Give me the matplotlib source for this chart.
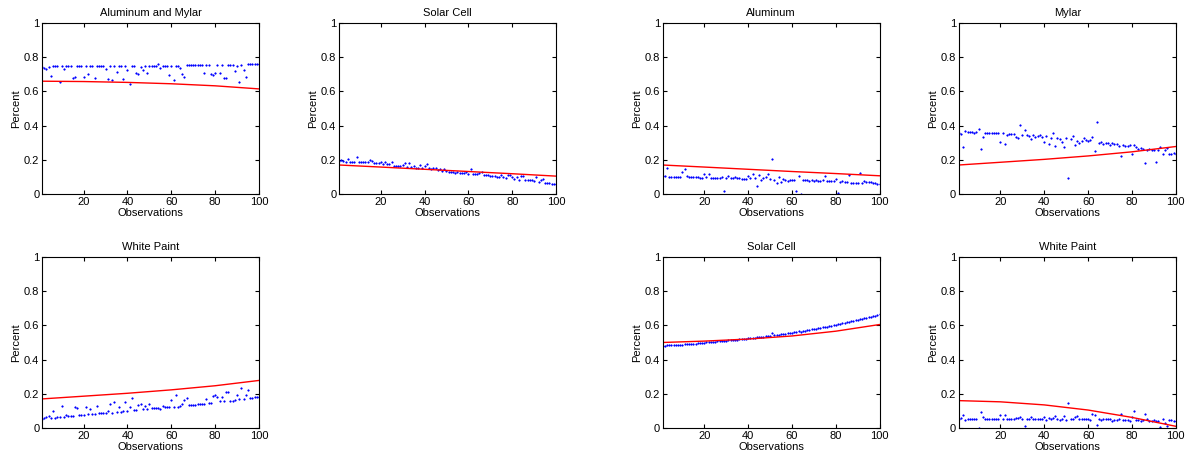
import numpy as np
import matplotlib
matplotlib.use("Agg")
import matplotlib.pyplot as plt

plt.rcParams['font.family'] = ['Liberation Sans', 'DejaVu Sans']

obs = np.arange(1, 101)
fit_x = [1, 20, 40, 60, 80, 100]

# Aluminum and Mylar
alm_pts = [0.745, 0.74, 0.73, 0.745, 0.69, 0.75, 0.75, 0.75, 0.655, 0.75,
           0.73, 0.75, 0.75, 0.75, 0.68, 0.685, 0.75, 0.75, 0.75, 0.685,
           0.75, 0.70, 0.75, 0.75, 0.68, 0.75, 0.75, 0.75, 0.75, 0.73,
           0.675, 0.75, 0.665, 0.75, 0.715, 0.75, 0.75, 0.675, 0.75, 0.725,
           0.645, 0.75, 0.75, 0.71, 0.70, 0.745, 0.725, 0.75, 0.71, 0.75,
           0.75, 0.75, 0.75, 0.76, 0.74, 0.75, 0.75, 0.75, 0.695, 0.75,
           0.665, 0.75, 0.75, 0.74, 0.705, 0.685, 0.755, 0.755, 0.755, 0.755,
           0.755, 0.755, 0.755, 0.755, 0.71, 0.755, 0.755, 0.705, 0.695, 0.71,
           0.755, 0.71, 0.755, 0.68, 0.68, 0.757, 0.757, 0.757, 0.72, 0.75,
           0.655, 0.755, 0.725, 0.685, 0.76, 0.76, 0.76, 0.76, 0.76, 0.76]
alm_fit = [0.660, 0.658, 0.653, 0.645, 0.633, 0.615]

# Solar Cell (top)
sc1_pts = [0.195, 0.20, 0.195, 0.19, 0.205, 0.19, 0.19, 0.19, 0.215, 0.19,
           0.19, 0.185, 0.185, 0.185, 0.20, 0.195, 0.18, 0.18, 0.18, 0.19,
           0.175, 0.185, 0.175, 0.175, 0.185, 0.165, 0.165, 0.165, 0.165, 0.17,
           0.18, 0.16, 0.18, 0.16, 0.165, 0.155, 0.155, 0.17, 0.15, 0.165,
           0.175, 0.15, 0.145, 0.155, 0.155, 0.14, 0.145, 0.135, 0.145, 0.135,
           0.13, 0.13, 0.13, 0.125, 0.13, 0.125, 0.125, 0.125, 0.13, 0.12,
           0.145, 0.115, 0.115, 0.12, 0.125, 0.13, 0.11, 0.11, 0.11, 0.105,
           0.105, 0.105, 0.10, 0.10, 0.11, 0.10, 0.095, 0.11, 0.11, 0.10,
           0.09, 0.10, 0.085, 0.105, 0.105, 0.08, 0.08, 0.08, 0.085, 0.075,
           0.10, 0.07, 0.08, 0.09, 0.065, 0.065, 0.065, 0.06, 0.06, 0.06]
sc1_fit = [0.170, 0.158, 0.145, 0.132, 0.119, 0.105]

# Aluminum
al_pts = [0.105, 0.105, 0.155, 0.10, 0.10, 0.10, 0.10, 0.10, 0.10, 0.13,
          0.145, 0.105, 0.10, 0.10, 0.10, 0.10, 0.10, 0.095, 0.095, 0.115,
          0.10, 0.12, 0.095, 0.095, 0.095, 0.095, 0.095, 0.10, 0.02, 0.095,
          0.105, 0.095, 0.095, 0.10, 0.095, 0.095, 0.09, 0.09, 0.09, 0.105,
          0.095, 0.12, 0.095, 0.05, 0.11, 0.085, 0.095, 0.10, 0.115, 0.09,
          0.205, 0.085, 0.065, 0.10, 0.07, 0.09, 0.085, 0.075, 0.08, 0.08,
          0.085, 0.02, 0.105, 0.0, 0.08, 0.08, 0.08, 0.075, 0.08, 0.075,
          0.08, 0.075, 0.075, 0.08, 0.105, 0.075, 0.075, 0.075, 0.075, 0.09,
          0.005, 0.07, 0.075, 0.07, 0.07, 0.11, 0.065, 0.065, 0.065, 0.065,
          0.125, 0.065, 0.075, 0.07, 0.07, 0.07, 0.065, 0.065, 0.06, 0.06]
al_fit = [0.170, 0.158, 0.145, 0.132, 0.120, 0.107]

# Mylar
my_pts = [0.355, 0.35, 0.275, 0.37, 0.365, 0.365, 0.365, 0.36, 0.365, 0.38,
          0.265, 0.335, 0.36, 0.355, 0.355, 0.355, 0.36, 0.355, 0.355, 0.305,
          0.355, 0.295, 0.345, 0.35, 0.35, 0.35, 0.335, 0.33, 0.405, 0.345,
          0.375, 0.345, 0.34, 0.32, 0.345, 0.335, 0.34, 0.345, 0.335, 0.305,
          0.34, 0.295, 0.325, 0.36, 0.28, 0.33, 0.32, 0.305, 0.275, 0.325,
          0.095, 0.32, 0.34, 0.285, 0.31, 0.30, 0.31, 0.325, 0.315, 0.31,
          0.315, 0.335, 0.25, 0.42, 0.30, 0.305, 0.295, 0.30, 0.30, 0.285,
          0.30, 0.295, 0.29, 0.28, 0.22, 0.285, 0.28, 0.28, 0.285, 0.235,
          0.285, 0.275, 0.265, 0.27, 0.265, 0.18, 0.26, 0.265, 0.26, 0.26,
          0.19, 0.255, 0.275, 0.235, 0.26, 0.27, 0.235, 0.235, 0.24, 0.235]
my_fit = [0.170, 0.186, 0.203, 0.223, 0.247, 0.278]

# White Paint (bottom left)
wp1_pts = [0.055, 0.06, 0.065, 0.07, 0.06, 0.10, 0.06, 0.065, 0.065, 0.13,
           0.065, 0.075, 0.07, 0.07, 0.07, 0.12, 0.115, 0.075, 0.075, 0.075,
           0.125, 0.08, 0.11, 0.08, 0.08, 0.13, 0.085, 0.085, 0.085, 0.09,
           0.10, 0.14, 0.09, 0.15, 0.095, 0.12, 0.095, 0.10, 0.15, 0.10,
           0.12, 0.175, 0.105, 0.105, 0.135, 0.14, 0.11, 0.13, 0.11, 0.14,
           0.115, 0.115, 0.115, 0.115, 0.11, 0.13, 0.12, 0.12, 0.125, 0.165,
           0.125, 0.19, 0.125, 0.13, 0.14, 0.165, 0.175, 0.135, 0.135, 0.135,
           0.135, 0.14, 0.14, 0.14, 0.14, 0.17, 0.145, 0.145, 0.185, 0.19,
           0.18, 0.155, 0.18, 0.16, 0.21, 0.21, 0.16, 0.16, 0.165, 0.19,
           0.17, 0.235, 0.17, 0.19, 0.22, 0.175, 0.175, 0.18, 0.18, 0.18]
wp1_fit = [0.170, 0.186, 0.203, 0.223, 0.247, 0.278]

# Solar Cell (bottom)
sc2_pts = [0.480, 0.482, 0.483, 0.484, 0.484, 0.485, 0.485, 0.486, 0.486, 0.487,
           0.492, 0.490, 0.491, 0.492, 0.493, 0.494, 0.495, 0.496, 0.497, 0.498,
           0.500, 0.501, 0.502, 0.503, 0.505, 0.506, 0.507, 0.508, 0.509, 0.511,
           0.512, 0.513, 0.514, 0.516, 0.517, 0.518, 0.520, 0.521, 0.523, 0.524,
           0.525, 0.527, 0.528, 0.530, 0.531, 0.533, 0.534, 0.536, 0.537, 0.540,
           0.558, 0.541, 0.543, 0.545, 0.547, 0.549, 0.551, 0.553, 0.555, 0.557,
           0.559, 0.561, 0.567, 0.562, 0.566, 0.569, 0.571, 0.573, 0.576, 0.578,
           0.580, 0.583, 0.585, 0.588, 0.590, 0.593, 0.596, 0.598, 0.601, 0.604,
           0.607, 0.610, 0.613, 0.615, 0.618, 0.621, 0.624, 0.627, 0.630, 0.633,
           0.636, 0.639, 0.642, 0.645, 0.648, 0.651, 0.654, 0.657, 0.661, 0.665]
sc2_fit = [0.500, 0.508, 0.520, 0.538, 0.566, 0.605]

# White Paint (bottom right)
wp2_pts = [0.055, 0.06, 0.075, 0.045, 0.05, 0.05, 0.05, 0.05, 0.05, 0.0,
           0.095, 0.065, 0.055, 0.055, 0.055, 0.055, 0.05, 0.055, 0.055, 0.075,
           0.05, 0.075, 0.055, 0.055, 0.055, 0.055, 0.06, 0.06, 0.065, 0.05,
           0.01, 0.05, 0.055, 0.065, 0.055, 0.055, 0.055, 0.05, 0.055, 0.065,
           0.045, 0.06, 0.055, 0.06, 0.07, 0.05, 0.045, 0.055, 0.07, 0.045,
           0.145, 0.05, 0.055, 0.065, 0.07, 0.055, 0.05, 0.05, 0.05, 0.05,
           0.045, 0.08, 0.075, 0.015, 0.05, 0.045, 0.05, 0.05, 0.05, 0.05,
           0.04, 0.045, 0.045, 0.05, 0.08, 0.045, 0.045, 0.045, 0.04, 0.065,
           0.10, 0.045, 0.045, 0.04, 0.045, 0.08, 0.05, 0.04, 0.04, 0.045,
           0.04, 0.04, 0.005, 0.05, 0.03, 0.01, 0.045, 0.045, 0.04, 0.04]
wp2_fit = [0.160, 0.153, 0.135, 0.105, 0.062, 0.010]

panels = [
    ("Aluminum and Mylar", alm_pts, alm_fit, [0.0352, 0.579]),
    ("Solar Cell", sc1_pts, sc1_fit, [0.284, 0.579]),
    ("Aluminum", al_pts, al_fit, [0.555, 0.579]),
    ("Mylar", my_pts, my_fit, [0.803, 0.579]),
    ("White Paint", wp1_pts, wp1_fit, [0.0352, 0.0716]),
    ("Solar Cell", sc2_pts, sc2_fit, [0.555, 0.0716]),
    ("White Paint", wp2_pts, wp2_fit, [0.803, 0.0716]),
]

fig = plt.figure(figsize=(11.94, 4.61), dpi=100)

for title, pts, fit, pos in panels:
    ax = fig.add_axes([pos[0], pos[1], 0.1817, 0.371])
    ax.plot(obs, pts, '.', color='b', markersize=2.4, markeredgewidth=0.3)
    ax.plot(fit_x, fit, color='r', lw=1)
    ax.set_xlim(1, 100)
    ax.set_ylim(0, 1)
    ax.set_xticks([20, 40, 60, 80, 100])
    ax.set_yticks([0, 0.2, 0.4, 0.6, 0.8, 1])
    ax.set_yticklabels(['0', '0.2', '0.4', '0.6', '0.8', '1'])
    ax.tick_params(direction='in', top=True, right=True, length=3, labelsize=8, pad=2)
    ax.set_title(title, fontsize=8, pad=5)
    ax.set_ylabel("Percent", fontsize=8, labelpad=2)
    ax.set_xlabel("Observations", fontsize=8, labelpad=1)

fig.savefig("out.png", dpi=100)
